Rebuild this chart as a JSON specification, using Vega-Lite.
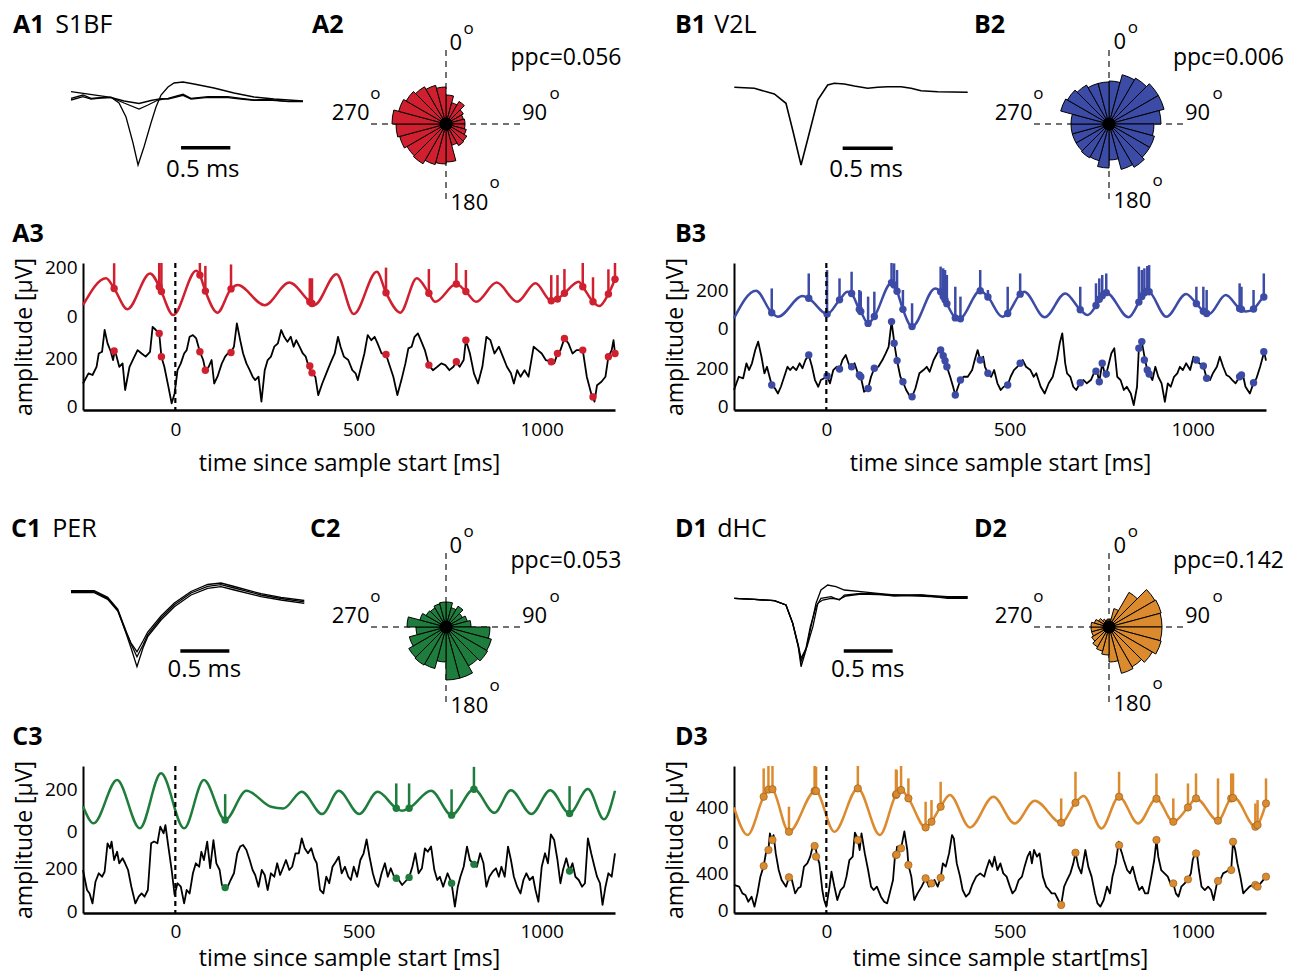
{
"$schema": "https://vega.github.io/schema/vega-lite/v6.json",
"background": "white",
"padding": {"left": 10, "top": 0, "right": 0, "bottom": 2},
"config": {
  "font": "Open Sans",
  "view": {"stroke": null},
  "axis": {"domainColor": "black", "labelColor": "black", "titleColor": "black", "ticks": false, "tickSize": 0, "grid": false, "labelFontSize": 19, "titleFontSize": 23, "titleFontWeight": "normal", "labelFont": "Open Sans", "titleFont": "Open Sans", "labelFlush": false},
  "axisX": {"domainWidth": 2.5, "labelPadding": 10, "titlePadding": 13, "format": "d"},
  "axisY": {"domainWidth": 2, "labelPadding": 6, "titlePadding": 8},
  "text": {"color": "black", "font": "Open Sans"}
},
"datasets": {
"aw": [{"k":1,"t":0,"v":8.3},{"k":1,"t":0.406,"v":2.7},{"k":1,"t":0.487,"v":-3},{"k":1,"t":0.558,"v":-17},{"k":1,"t":0.629,"v":-43},{"k":1,"t":0.68,"v":-65},{"k":1,"t":0.74,"v":-47},{"k":1,"t":0.811,"v":-23},{"k":1,"t":0.862,"v":-7},{"k":1,"t":0.913,"v":5},{"k":1,"t":0.984,"v":13},{"k":1,"t":1.045,"v":17},{"k":1,"t":1.136,"v":18},{"k":1,"t":1.247,"v":16},{"k":1,"t":1.45,"v":12},{"k":1,"t":1.653,"v":7},{"k":1,"t":1.856,"v":3},{"k":1,"t":2.059,"v":1},{"k":1,"t":2.353,"v":-1},
{"k":2,"t":0,"v":1.7},{"k":2,"t":0.122,"v":5},{"k":2,"t":0.203,"v":1.7},{"k":2,"t":0.304,"v":2.3},{"k":2,"t":0.406,"v":2.7},{"k":2,"t":0.538,"v":-3},{"k":2,"t":0.69,"v":-9},{"k":2,"t":0.781,"v":-5},{"k":2,"t":0.882,"v":0},{"k":2,"t":0.984,"v":1.7},{"k":2,"t":1.136,"v":5.7},{"k":2,"t":1.217,"v":1.7},{"k":2,"t":1.389,"v":3.3},{"k":2,"t":1.592,"v":3.3},{"k":2,"t":1.724,"v":1.7},{"k":2,"t":1.856,"v":0},{"k":2,"t":1.998,"v":0.7},{"k":2,"t":2.201,"v":-1.7},{"k":2,"t":2.353,"v":-1.7},
{"k":3,"t":0,"v":0},{"k":3,"t":0.122,"v":3.3},{"k":3,"t":0.203,"v":1},{"k":3,"t":0.304,"v":2},{"k":3,"t":0.406,"v":2.7},{"k":3,"t":0.538,"v":-1},{"k":3,"t":0.69,"v":-3.5},{"k":3,"t":0.811,"v":-0.5},{"k":3,"t":0.913,"v":1.3},{"k":3,"t":0.984,"v":1},{"k":3,"t":1.136,"v":4.7},{"k":3,"t":1.217,"v":1},{"k":3,"t":1.389,"v":2.7},{"k":3,"t":1.592,"v":2.3},{"k":3,"t":1.724,"v":1},{"k":3,"t":1.856,"v":-0.3},{"k":3,"t":1.998,"v":0},{"k":3,"t":2.201,"v":-1.3},{"k":3,"t":2.353,"v":-1.3}],
"bw": [{"k":1,"t":0.003,"v":12.7},{"k":1,"t":0.206,"v":11.7},{"k":1,"t":0.409,"v":6},{"k":1,"t":0.527,"v":-3.3},{"k":1,"t":0.595,"v":-30},{"k":1,"t":0.68,"v":-65},{"k":1,"t":0.754,"v":-36.7},{"k":1,"t":0.849,"v":0},{"k":1,"t":0.95,"v":15},{"k":1,"t":1.017,"v":16.7},{"k":1,"t":1.119,"v":16},{"k":1,"t":1.22,"v":14},{"k":1,"t":1.356,"v":11.7},{"k":1,"t":1.457,"v":12.7},{"k":1,"t":1.559,"v":13.3},{"k":1,"t":1.694,"v":13.3},{"k":1,"t":1.795,"v":11.7},{"k":1,"t":1.897,"v":9.3},{"k":1,"t":2.066,"v":8.3},{"k":1,"t":2.37,"v":7.7}],
"cw": [{"k":1,"t":0,"v":11.3},{"k":1,"t":0.236,"v":11.3},{"k":1,"t":0.372,"v":4.7},{"k":1,"t":0.474,"v":-7},{"k":1,"t":0.558,"v":-30.3},{"k":1,"t":0.609,"v":-45},{"k":1,"t":0.669,"v":-63.7},{"k":1,"t":0.73,"v":-45},{"k":1,"t":0.778,"v":-33.7},{"k":1,"t":0.913,"v":-17},{"k":1,"t":1.048,"v":-3.7},{"k":1,"t":1.217,"v":8},{"k":1,"t":1.386,"v":14.7},{"k":1,"t":1.521,"v":16.3},{"k":1,"t":1.656,"v":13},{"k":1,"t":1.927,"v":6.3},{"k":1,"t":2.13,"v":3},{"k":1,"t":2.366,"v":-0.3},
{"k":2,"t":0,"v":12.3},{"k":2,"t":0.236,"v":12.3},{"k":2,"t":0.372,"v":5.7},{"k":2,"t":0.474,"v":-6},{"k":2,"t":0.558,"v":-28},{"k":2,"t":0.609,"v":-41},{"k":2,"t":0.669,"v":-53.7},{"k":2,"t":0.73,"v":-42},{"k":2,"t":0.778,"v":-31.7},{"k":2,"t":0.913,"v":-15},{"k":2,"t":1.048,"v":-1.7},{"k":2,"t":1.217,"v":10},{"k":2,"t":1.386,"v":16.7},{"k":2,"t":1.521,"v":18.3},{"k":2,"t":1.656,"v":15},{"k":2,"t":1.927,"v":8},{"k":2,"t":2.13,"v":4.5},{"k":2,"t":2.366,"v":1.2},
{"k":3,"t":0,"v":10.3},{"k":3,"t":0.236,"v":10.3},{"k":3,"t":0.372,"v":3.7},{"k":3,"t":0.474,"v":-8},{"k":3,"t":0.558,"v":-29},{"k":3,"t":0.609,"v":-40},{"k":3,"t":0.669,"v":-48.7},{"k":3,"t":0.73,"v":-38},{"k":3,"t":0.778,"v":-29},{"k":3,"t":0.913,"v":-13},{"k":3,"t":1.048,"v":0},{"k":3,"t":1.217,"v":11.5},{"k":3,"t":1.386,"v":18.5},{"k":3,"t":1.521,"v":20},{"k":3,"t":1.656,"v":16.5},{"k":3,"t":1.927,"v":9.3},{"k":3,"t":2.13,"v":5.7},{"k":3,"t":2.366,"v":2.5}],
"dw": [{"k":1,"t":0.003,"v":4.7},{"k":1,"t":0.206,"v":3.7},{"k":1,"t":0.409,"v":2.3},{"k":1,"t":0.527,"v":-2},{"k":1,"t":0.595,"v":-20.3},{"k":1,"t":0.652,"v":-43.7},{"k":1,"t":0.68,"v":-63.7},{"k":1,"t":0.73,"v":-47},{"k":1,"t":0.781,"v":-23.7},{"k":1,"t":0.832,"v":-0.3},{"k":1,"t":0.882,"v":13},{"k":1,"t":0.95,"v":18},{"k":1,"t":1.034,"v":16.3},{"k":1,"t":1.119,"v":13},{"k":1,"t":1.288,"v":11.3},{"k":1,"t":1.457,"v":9.7},{"k":1,"t":1.626,"v":8},{"k":1,"t":1.897,"v":8},{"k":1,"t":2.167,"v":6.3},{"k":1,"t":2.37,"v":6.3},
{"k":2,"t":0.003,"v":4.7},{"k":2,"t":0.206,"v":3.7},{"k":2,"t":0.409,"v":2.3},{"k":2,"t":0.527,"v":-2},{"k":2,"t":0.595,"v":-20.3},{"k":2,"t":0.652,"v":-43.7},{"k":2,"t":0.68,"v":-58.7},{"k":2,"t":0.73,"v":-45.3},{"k":2,"t":0.774,"v":-23.7},{"k":2,"t":0.832,"v":-3.7},{"k":2,"t":0.882,"v":4.7},{"k":2,"t":0.984,"v":6.3},{"k":2,"t":1.068,"v":3},{"k":2,"t":1.119,"v":8},{"k":2,"t":1.288,"v":9.7},{"k":2,"t":1.457,"v":9},{"k":2,"t":1.626,"v":7},{"k":2,"t":1.897,"v":8},{"k":2,"t":2.167,"v":4.7},{"k":2,"t":2.37,"v":4.7},
{"k":3,"t":0.003,"v":4.7},{"k":3,"t":0.206,"v":3.7},{"k":3,"t":0.409,"v":2.3},{"k":3,"t":0.527,"v":-2},{"k":3,"t":0.595,"v":-20},{"k":3,"t":0.652,"v":-42},{"k":3,"t":0.68,"v":-55.3},{"k":3,"t":0.74,"v":-43.7},{"k":3,"t":0.8,"v":-23.7},{"k":3,"t":0.85,"v":-0.3},{"k":3,"t":0.9,"v":3},{"k":3,"t":0.984,"v":4.7},{"k":3,"t":1.068,"v":3.7},{"k":3,"t":1.136,"v":7},{"k":3,"t":1.288,"v":9},{"k":3,"t":1.626,"v":8},{"k":3,"t":2.167,"v":5.7},{"k":3,"t":2.37,"v":5.7}],
"ar": [{"a0":0,"a1":15,"n":29},{"a0":15,"a1":30,"n":22},{"a0":30,"a1":45,"n":26},{"a0":45,"a1":60,"n":20},{"a0":60,"a1":75,"n":18},{"a0":75,"a1":90,"n":19},{"a0":90,"a1":105,"n":19},{"a0":105,"a1":120,"n":21},{"a0":120,"a1":135,"n":24},{"a0":135,"a1":150,"n":25},{"a0":150,"a1":165,"n":22},{"a0":165,"a1":180,"n":38},{"a0":180,"a1":195,"n":40},{"a0":195,"a1":210,"n":42},{"a0":210,"a1":225,"n":46},{"a0":225,"a1":240,"n":45},{"a0":240,"a1":255,"n":48},{"a0":255,"a1":270,"n":50},{"a0":270,"a1":285,"n":54},{"a0":285,"a1":300,"n":49},{"a0":300,"a1":315,"n":46},{"a0":315,"a1":330,"n":43},{"a0":330,"a1":345,"n":40},{"a0":345,"a1":360,"n":37}],
"br": [{"a0":0,"a1":15,"n":43},{"a0":15,"a1":30,"n":51},{"a0":30,"a1":45,"n":53},{"a0":45,"a1":60,"n":57},{"a0":60,"a1":75,"n":57},{"a0":75,"a1":90,"n":52},{"a0":90,"a1":105,"n":45},{"a0":105,"a1":120,"n":47},{"a0":120,"a1":135,"n":47},{"a0":135,"a1":150,"n":50},{"a0":150,"a1":165,"n":47},{"a0":165,"a1":180,"n":36},{"a0":180,"a1":195,"n":44},{"a0":195,"a1":210,"n":38},{"a0":210,"a1":225,"n":39},{"a0":225,"a1":240,"n":38},{"a0":240,"a1":255,"n":38},{"a0":255,"a1":270,"n":38},{"a0":270,"a1":285,"n":38},{"a0":285,"a1":300,"n":50},{"a0":300,"a1":315,"n":48},{"a0":315,"a1":330,"n":45},{"a0":330,"a1":345,"n":42},{"a0":345,"a1":360,"n":42}],
"cr": [{"a0":0,"a1":15,"n":25},{"a0":15,"a1":30,"n":20},{"a0":30,"a1":45,"n":24},{"a0":45,"a1":60,"n":19},{"a0":60,"a1":75,"n":22},{"a0":75,"a1":90,"n":25},{"a0":90,"a1":105,"n":44},{"a0":105,"a1":120,"n":47},{"a0":120,"a1":135,"n":48},{"a0":135,"a1":150,"n":45},{"a0":150,"a1":165,"n":53},{"a0":165,"a1":180,"n":53},{"a0":180,"a1":195,"n":35},{"a0":195,"a1":210,"n":43},{"a0":210,"a1":225,"n":44},{"a0":225,"a1":240,"n":43},{"a0":240,"a1":255,"n":38},{"a0":255,"a1":270,"n":30},{"a0":270,"a1":285,"n":39},{"a0":285,"a1":300,"n":27},{"a0":300,"a1":315,"n":23},{"a0":315,"a1":330,"n":22},{"a0":330,"a1":345,"n":24},{"a0":345,"a1":360,"n":25}],
"dr": [{"a0":0,"a1":15,"n":8},{"a0":15,"a1":30,"n":19},{"a0":30,"a1":45,"n":40},{"a0":45,"a1":60,"n":53},{"a0":60,"a1":75,"n":54},{"a0":75,"a1":90,"n":53},{"a0":90,"a1":105,"n":53},{"a0":105,"a1":120,"n":54},{"a0":120,"a1":135,"n":50},{"a0":135,"a1":150,"n":46},{"a0":150,"a1":165,"n":48},{"a0":165,"a1":180,"n":35},{"a0":180,"a1":195,"n":28},{"a0":195,"a1":210,"n":25},{"a0":210,"a1":225,"n":23},{"a0":225,"a1":240,"n":20},{"a0":240,"a1":255,"n":18},{"a0":255,"a1":270,"n":18},{"a0":270,"a1":285,"n":18},{"a0":285,"a1":300,"n":15},{"a0":300,"a1":315,"n":12},{"a0":315,"a1":330,"n":9},{"a0":330,"a1":345,"n":7},{"a0":345,"a1":360,"n":8}],
"al": [{"t":-252,"v":96},{"t":-237,"v":138},{"t":-226,"v":131},{"t":-215,"v":165},{"t":-209,"v":220},{"t":-200,"v":227},{"t":-193,"v":317},{"t":-185,"v":262},{"t":-176,"v":227},{"t":-170,"v":193},{"t":-165,"v":234},{"t":-153,"v":165},{"t":-144,"v":179},{"t":-137,"v":69},{"t":-125,"v":165},{"t":-114,"v":200},{"t":-103,"v":234},{"t":-92,"v":220},{"t":-81,"v":207},{"t":-69,"v":227},{"t":-62,"v":330},{"t":-53,"v":317},{"t":-44,"v":303},{"t":-38,"v":207},{"t":-30,"v":165},{"t":-19,"v":83},{"t":-10,"v":14},{"t":-2,"v":55},{"t":6,"v":151},{"t":15,"v":179},{"t":24,"v":220},{"t":31,"v":234},{"t":39,"v":289},{"t":48,"v":296},{"t":57,"v":282},{"t":67,"v":227},{"t":76,"v":193},{"t":82,"v":151},{"t":91,"v":165},{"t":99,"v":193},{"t":106,"v":96},{"t":115,"v":124},{"t":127,"v":179},{"t":136,"v":207},{"t":143,"v":220},{"t":152,"v":224},{"t":160,"v":248},{"t":168,"v":344},{"t":177,"v":275},{"t":185,"v":220},{"t":194,"v":179},{"t":203,"v":151},{"t":211,"v":124},{"t":218,"v":110},{"t":227,"v":124},{"t":235,"v":21},{"t":244,"v":151},{"t":252,"v":193},{"t":261,"v":207},{"t":270,"v":248},{"t":280,"v":262},{"t":289,"v":317},{"t":297,"v":289},{"t":306,"v":268},{"t":315,"v":289},{"t":323,"v":248},{"t":330,"v":275},{"t":339,"v":248},{"t":348,"v":220},{"t":356,"v":207},{"t":364,"v":165},{"t":373,"v":140},{"t":382,"v":124},{"t":390,"v":48},{"t":401,"v":96},{"t":412,"v":138},{"t":423,"v":179},{"t":435,"v":220},{"t":444,"v":289},{"t":451,"v":248},{"t":460,"v":207},{"t":472,"v":193},{"t":483,"v":151},{"t":492,"v":138},{"t":498,"v":110},{"t":507,"v":165},{"t":516,"v":220},{"t":525,"v":296},{"t":535,"v":275},{"t":544,"v":289},{"t":552,"v":262},{"t":563,"v":220},{"t":575,"v":216},{"t":586,"v":165},{"t":595,"v":124},{"t":606,"v":48},{"t":617,"v":110},{"t":628,"v":179},{"t":636,"v":241},{"t":645,"v":248},{"t":653,"v":289},{"t":662,"v":303},{"t":670,"v":275},{"t":681,"v":234},{"t":692,"v":172},{"t":703,"v":151},{"t":715,"v":165},{"t":726,"v":179},{"t":737,"v":172},{"t":748,"v":151},{"t":759,"v":165},{"t":767,"v":186},{"t":776,"v":165},{"t":787,"v":193},{"t":793,"v":275},{"t":804,"v":220},{"t":815,"v":138},{"t":826,"v":96},{"t":838,"v":165},{"t":849,"v":289},{"t":860,"v":275},{"t":871,"v":220},{"t":883,"v":248},{"t":894,"v":207},{"t":905,"v":165},{"t":916,"v":138},{"t":924,"v":96},{"t":933,"v":151},{"t":942,"v":124},{"t":953,"v":151},{"t":964,"v":124},{"t":978,"v":248},{"t":989,"v":234},{"t":1000,"v":220},{"t":1011,"v":193},{"t":1026,"v":186},{"t":1034,"v":179},{"t":1043,"v":220},{"t":1051,"v":234},{"t":1062,"v":282},{"t":1073,"v":262},{"t":1084,"v":220},{"t":1095,"v":234},{"t":1112,"v":234},{"t":1123,"v":124},{"t":1135,"v":55},{"t":1144,"v":21},{"t":1151,"v":89},{"t":1163,"v":103},{"t":1174,"v":124},{"t":1182,"v":207},{"t":1191,"v":234},{"t":1196,"v":275},{"t":1200,"v":220}],
"af": [{"t":-252,"v":45},{"t":-189,"v":156},{"t":-167,"v":114},{"t":-131,"v":28},{"t":-69,"v":176},{"t":-44,"v":121},{"t":-38,"v":101},{"t":-6,"v":4},{"t":57,"v":187},{"t":67,"v":169},{"t":82,"v":103},{"t":115,"v":14},{"t":152,"v":112},{"t":170,"v":128},{"t":244,"v":45},{"t":311,"v":138},{"t":367,"v":59},{"t":373,"v":52},{"t":379,"v":45},{"t":440,"v":173},{"t":487,"v":8},{"t":550,"v":183},{"t":575,"v":96},{"t":614,"v":14},{"t":659,"v":156},{"t":692,"v":94},{"t":709,"v":59},{"t":767,"v":132},{"t":793,"v":101},{"t":821,"v":59},{"t":877,"v":138},{"t":933,"v":59},{"t":983,"v":135},{"t":1026,"v":63},{"t":1043,"v":70},{"t":1062,"v":94},{"t":1101,"v":142},{"t":1112,"v":121},{"t":1140,"v":59},{"t":1157,"v":41},{"t":1182,"v":91},{"t":1200,"v":152}],
"as": [{"t":-167,"f":114,"top":218,"raw":230},{"t":-44,"f":121,"top":219,"raw":303},{"t":-38,"f":101,"top":219,"raw":207},{"t":67,"f":169,"top":219,"raw":227},{"t":82,"f":103,"top":207,"raw":151},{"t":152,"f":112,"top":213,"raw":224},{"t":367,"f":59,"top":156,"raw":168},{"t":373,"f":52,"top":156,"raw":140},{"t":575,"f":96,"top":200,"raw":216},{"t":692,"f":94,"top":194,"raw":172},{"t":767,"f":132,"top":219,"raw":186},{"t":793,"f":101,"top":190,"raw":275},{"t":1026,"f":63,"top":169,"raw":186},{"t":1043,"f":70,"top":169,"raw":220},{"t":1062,"f":94,"top":194,"raw":282},{"t":1112,"f":121,"top":219,"raw":234},{"t":1140,"f":59,"top":160,"raw":40},{"t":1182,"f":91,"top":193,"raw":207},{"t":1200,"f":152,"top":219,"raw":220}],
"bl": [{"t":-252,"v":87},{"t":-239,"v":156},{"t":-227,"v":148},{"t":-218,"v":226},{"t":-211,"v":191},{"t":-203,"v":226},{"t":-194,"v":295},{"t":-186,"v":339},{"t":-177,"v":260},{"t":-169,"v":174},{"t":-162,"v":208},{"t":-155,"v":156},{"t":-149,"v":113},{"t":-140,"v":95},{"t":-132,"v":69},{"t":-124,"v":104},{"t":-115,"v":156},{"t":-106,"v":208},{"t":-99,"v":191},{"t":-91,"v":208},{"t":-82,"v":191},{"t":-73,"v":226},{"t":-65,"v":200},{"t":-57,"v":243},{"t":-48,"v":269},{"t":-39,"v":208},{"t":-31,"v":139},{"t":-22,"v":104},{"t":-15,"v":139},{"t":-6,"v":148},{"t":2,"v":160},{"t":10,"v":122},{"t":19,"v":191},{"t":28,"v":208},{"t":36,"v":196},{"t":44,"v":243},{"t":53,"v":269},{"t":62,"v":217},{"t":69,"v":208},{"t":77,"v":226},{"t":86,"v":174},{"t":94,"v":156},{"t":103,"v":78},{"t":114,"v":95},{"t":122,"v":156},{"t":131,"v":200},{"t":142,"v":208},{"t":153,"v":243},{"t":162,"v":278},{"t":170,"v":312},{"t":178,"v":443},{"t":187,"v":312},{"t":193,"v":240},{"t":202,"v":156},{"t":209,"v":130},{"t":218,"v":87},{"t":226,"v":61},{"t":234,"v":52},{"t":243,"v":95},{"t":254,"v":174},{"t":265,"v":191},{"t":274,"v":208},{"t":282,"v":182},{"t":293,"v":243},{"t":305,"v":286},{"t":312,"v":295},{"t":321,"v":257},{"t":329,"v":208},{"t":338,"v":156},{"t":346,"v":104},{"t":352,"v":61},{"t":358,"v":95},{"t":366,"v":139},{"t":375,"v":156},{"t":386,"v":156},{"t":398,"v":191},{"t":405,"v":243},{"t":413,"v":295},{"t":420,"v":243},{"t":428,"v":260},{"t":433,"v":208},{"t":441,"v":174},{"t":450,"v":156},{"t":458,"v":191},{"t":467,"v":122},{"t":476,"v":87},{"t":484,"v":104},{"t":495,"v":113},{"t":503,"v":156},{"t":512,"v":191},{"t":521,"v":208},{"t":529,"v":226},{"t":536,"v":243},{"t":545,"v":208},{"t":557,"v":191},{"t":566,"v":156},{"t":573,"v":174},{"t":585,"v":104},{"t":596,"v":69},{"t":607,"v":122},{"t":618,"v":156},{"t":629,"v":243},{"t":637,"v":330},{"t":644,"v":382},{"t":652,"v":226},{"t":657,"v":174},{"t":666,"v":156},{"t":674,"v":104},{"t":682,"v":87},{"t":693,"v":125},{"t":702,"v":139},{"t":711,"v":122},{"t":722,"v":139},{"t":730,"v":174},{"t":738,"v":191},{"t":745,"v":130},{"t":753,"v":226},{"t":762,"v":156},{"t":769,"v":208},{"t":778,"v":278},{"t":786,"v":304},{"t":794,"v":156},{"t":803,"v":139},{"t":812,"v":87},{"t":820,"v":104},{"t":831,"v":69},{"t":839,"v":9},{"t":848,"v":104},{"t":853,"v":304},{"t":861,"v":339},{"t":870,"v":243},{"t":876,"v":191},{"t":881,"v":170},{"t":890,"v":139},{"t":898,"v":208},{"t":906,"v":156},{"t":915,"v":122},{"t":924,"v":26},{"t":932,"v":122},{"t":940,"v":104},{"t":949,"v":156},{"t":958,"v":174},{"t":965,"v":208},{"t":973,"v":191},{"t":982,"v":226},{"t":993,"v":191},{"t":1002,"v":260},{"t":1010,"v":243},{"t":1018,"v":226},{"t":1029,"v":212},{"t":1038,"v":148},{"t":1047,"v":139},{"t":1055,"v":174},{"t":1066,"v":208},{"t":1074,"v":260},{"t":1083,"v":208},{"t":1092,"v":165},{"t":1100,"v":156},{"t":1108,"v":139},{"t":1117,"v":122},{"t":1128,"v":156},{"t":1137,"v":165},{"t":1144,"v":104},{"t":1156,"v":69},{"t":1166,"v":125},{"t":1174,"v":148},{"t":1184,"v":208},{"t":1195,"v":286},{"t":1200,"v":240}],
"bf": [{"t":-252,"v":53},{"t":-192,"v":198},{"t":-149,"v":82},{"t":-132,"v":61},{"t":-65,"v":170},{"t":-48,"v":158},{"t":2,"v":75},{"t":36,"v":150},{"t":58,"v":193},{"t":69,"v":183},{"t":90,"v":100},{"t":94,"v":88},{"t":114,"v":26},{"t":131,"v":62},{"t":178,"v":240},{"t":185,"v":228},{"t":193,"v":195},{"t":209,"v":100},{"t":234,"v":9},{"t":297,"v":210},{"t":312,"v":192},{"t":319,"v":168},{"t":324,"v":150},{"t":329,"v":130},{"t":352,"v":55},{"t":361,"v":47},{"t":366,"v":50},{"t":420,"v":198},{"t":441,"v":165},{"t":480,"v":61},{"t":495,"v":78},{"t":529,"v":180},{"t":540,"v":193},{"t":596,"v":58},{"t":652,"v":184},{"t":693,"v":98},{"t":713,"v":70},{"t":736,"v":120},{"t":745,"v":153},{"t":753,"v":172},{"t":764,"v":188},{"t":825,"v":58},{"t":853,"v":138},{"t":861,"v":168},{"t":868,"v":188},{"t":876,"v":196},{"t":881,"v":193},{"t":928,"v":61},{"t":982,"v":181},{"t":1010,"v":130},{"t":1029,"v":90},{"t":1038,"v":78},{"t":1044,"v":75},{"t":1090,"v":175},{"t":1128,"v":105},{"t":1133,"v":100},{"t":1145,"v":88},{"t":1166,"v":102},{"t":1194,"v":165},{"t":1200,"v":172}],
"bs": [{"t":-149,"f":82,"top":210,"raw":113},{"t":-48,"f":158,"top":289,"raw":269},{"t":2,"f":75,"top":307,"raw":160},{"t":36,"f":150,"top":263,"raw":196},{"t":69,"f":183,"top":298,"raw":208},{"t":90,"f":100,"top":202,"raw":165},{"t":94,"f":88,"top":195,"raw":156},{"t":114,"f":26,"top":167,"raw":95},{"t":131,"f":62,"top":193,"raw":200},{"t":178,"f":240,"top":344,"raw":443},{"t":185,"f":228,"top":342,"raw":330},{"t":193,"f":195,"top":307,"raw":240},{"t":209,"f":100,"top":202,"raw":130},{"t":234,"f":9,"top":132,"raw":52},{"t":312,"f":192,"top":325,"raw":295},{"t":319,"f":168,"top":316,"raw":265},{"t":324,"f":150,"top":307,"raw":239},{"t":329,"f":130,"top":281,"raw":208},{"t":352,"f":55,"top":219,"raw":61},{"t":366,"f":50,"top":167,"raw":139},{"t":420,"f":198,"top":307,"raw":243},{"t":441,"f":165,"top":202,"raw":174},{"t":495,"f":78,"top":219,"raw":113},{"t":529,"f":180,"top":289,"raw":226},{"t":693,"f":98,"top":219,"raw":125},{"t":736,"f":120,"top":237,"raw":185},{"t":745,"f":153,"top":263,"raw":130},{"t":753,"f":172,"top":281,"raw":226},{"t":764,"f":188,"top":289,"raw":170},{"t":853,"f":138,"top":325,"raw":304},{"t":861,"f":168,"top":307,"raw":339},{"t":868,"f":188,"top":316,"raw":243},{"t":876,"f":196,"top":328,"raw":191},{"t":881,"f":193,"top":333,"raw":170},{"t":1010,"f":130,"top":219,"raw":243},{"t":1029,"f":90,"top":219,"raw":212},{"t":1038,"f":78,"top":202,"raw":148},{"t":1128,"f":105,"top":237,"raw":156},{"t":1133,"f":100,"top":219,"raw":165},{"t":1166,"f":102,"top":202,"raw":125},{"t":1194,"f":165,"top":289,"raw":286}],
"cl": [{"t":-252,"v":192},{"t":-241,"v":100},{"t":-234,"v":84},{"t":-226,"v":38},{"t":-218,"v":138},{"t":-209,"v":177},{"t":-200,"v":161},{"t":-193,"v":184},{"t":-185,"v":315},{"t":-178,"v":292},{"t":-174,"v":323},{"t":-167,"v":238},{"t":-159,"v":276},{"t":-153,"v":223},{"t":-144,"v":246},{"t":-137,"v":223},{"t":-129,"v":192},{"t":-120,"v":115},{"t":-109,"v":38},{"t":-100,"v":69},{"t":-92,"v":84},{"t":-84,"v":69},{"t":-75,"v":100},{"t":-66,"v":315},{"t":-58,"v":323},{"t":-49,"v":315},{"t":-41,"v":392},{"t":-32,"v":361},{"t":-27,"v":399},{"t":-19,"v":300},{"t":-10,"v":192},{"t":-2,"v":77},{"t":6,"v":131},{"t":15,"v":115},{"t":24,"v":38},{"t":31,"v":100},{"t":39,"v":84},{"t":48,"v":177},{"t":56,"v":223},{"t":65,"v":207},{"t":71,"v":276},{"t":78,"v":238},{"t":87,"v":323},{"t":95,"v":200},{"t":104,"v":330},{"t":112,"v":223},{"t":121,"v":192},{"t":127,"v":123},{"t":136,"v":111},{"t":143,"v":115},{"t":151,"v":146},{"t":160,"v":177},{"t":169,"v":269},{"t":177,"v":300},{"t":185,"v":307},{"t":194,"v":284},{"t":203,"v":238},{"t":211,"v":192},{"t":218,"v":169},{"t":227,"v":115},{"t":236,"v":192},{"t":244,"v":169},{"t":252,"v":100},{"t":261,"v":177},{"t":270,"v":161},{"t":278,"v":223},{"t":286,"v":169},{"t":295,"v":207},{"t":302,"v":238},{"t":311,"v":192},{"t":319,"v":207},{"t":328,"v":269},{"t":337,"v":269},{"t":345,"v":338},{"t":353,"v":292},{"t":362,"v":269},{"t":371,"v":292},{"t":379,"v":246},{"t":386,"v":223},{"t":395,"v":100},{"t":404,"v":84},{"t":412,"v":161},{"t":420,"v":131},{"t":429,"v":207},{"t":438,"v":230},{"t":446,"v":253},{"t":454,"v":177},{"t":463,"v":207},{"t":472,"v":161},{"t":479,"v":146},{"t":487,"v":207},{"t":496,"v":161},{"t":505,"v":238},{"t":514,"v":269},{"t":522,"v":333},{"t":530,"v":253},{"t":539,"v":177},{"t":547,"v":131},{"t":554,"v":115},{"t":563,"v":177},{"t":572,"v":223},{"t":580,"v":161},{"t":588,"v":200},{"t":597,"v":161},{"t":603,"v":154},{"t":610,"v":146},{"t":619,"v":123},{"t":627,"v":138},{"t":638,"v":158},{"t":647,"v":207},{"t":655,"v":269},{"t":664,"v":177},{"t":673,"v":200},{"t":681,"v":292},{"t":689,"v":276},{"t":698,"v":300},{"t":707,"v":192},{"t":715,"v":146},{"t":722,"v":161},{"t":731,"v":115},{"t":743,"v":177},{"t":754,"v":131},{"t":763,"v":23},{"t":771,"v":115},{"t":778,"v":161},{"t":787,"v":207},{"t":796,"v":300},{"t":804,"v":238},{"t":815,"v":218},{"t":823,"v":207},{"t":832,"v":269},{"t":841,"v":223},{"t":849,"v":115},{"t":857,"v":161},{"t":866,"v":184},{"t":875,"v":200},{"t":883,"v":161},{"t":890,"v":207},{"t":899,"v":161},{"t":908,"v":300},{"t":916,"v":238},{"t":924,"v":161},{"t":933,"v":115},{"t":942,"v":84},{"t":950,"v":146},{"t":958,"v":177},{"t":967,"v":146},{"t":976,"v":161},{"t":983,"v":100},{"t":991,"v":46},{"t":1000,"v":207},{"t":1009,"v":269},{"t":1017,"v":223},{"t":1025,"v":356},{"t":1034,"v":330},{"t":1043,"v":238},{"t":1051,"v":131},{"t":1058,"v":192},{"t":1067,"v":246},{"t":1076,"v":187},{"t":1084,"v":223},{"t":1092,"v":161},{"t":1101,"v":146},{"t":1110,"v":115},{"t":1118,"v":131},{"t":1126,"v":338},{"t":1135,"v":269},{"t":1144,"v":207},{"t":1151,"v":161},{"t":1159,"v":131},{"t":1166,"v":31},{"t":1174,"v":115},{"t":1182,"v":177},{"t":1191,"v":161},{"t":1200,"v":269}],
"cf": [{"t":-252,"v":122},{"t":-223,"v":40},{"t":-159,"v":246},{"t":-97,"v":16},{"t":-39,"v":278},{"t":24,"v":16},{"t":78,"v":246},{"t":136,"v":56},{"t":194,"v":195},{"t":261,"v":119},{"t":295,"v":111},{"t":345,"v":190},{"t":401,"v":84},{"t":446,"v":195},{"t":502,"v":84},{"t":552,"v":190},{"t":603,"v":112},{"t":619,"v":100},{"t":638,"v":112},{"t":698,"v":195},{"t":754,"v":79},{"t":815,"v":202},{"t":871,"v":90},{"t":916,"v":198},{"t":972,"v":84},{"t":1023,"v":198},{"t":1076,"v":87},{"t":1126,"v":203},{"t":1170,"v":59},{"t":1200,"v":195}],
"cs": [{"t":136,"f":56,"top":179,"raw":111},{"t":603,"f":112,"top":230,"raw":154},{"t":638,"f":112,"top":230,"raw":158},{"t":754,"f":79,"top":202,"raw":131},{"t":815,"f":202,"top":309,"raw":218},{"t":1076,"f":87,"top":217,"raw":187}],
"dl": [{"t":-252,"v":275},{"t":-238,"v":257},{"t":-229,"v":185},{"t":-221,"v":168},{"t":-213,"v":96},{"t":-204,"v":150},{"t":-196,"v":43},{"t":-188,"v":185},{"t":-180,"v":364},{"t":-171,"v":478},{"t":-165,"v":613},{"t":-158,"v":649},{"t":-154,"v":827},{"t":-149,"v":756},{"t":-144,"v":809},{"t":-138,"v":613},{"t":-130,"v":435},{"t":-122,"v":328},{"t":-110,"v":257},{"t":-102,"v":357},{"t":-94,"v":328},{"t":-85,"v":185},{"t":-77,"v":239},{"t":-70,"v":257},{"t":-61,"v":471},{"t":-52,"v":506},{"t":-44,"v":578},{"t":-36,"v":702},{"t":-30,"v":692},{"t":-25,"v":578},{"t":-19,"v":506},{"t":-11,"v":221},{"t":-6,"v":114},{"t":0,"v":43},{"t":8,"v":239},{"t":14,"v":417},{"t":22,"v":257},{"t":30,"v":114},{"t":39,"v":221},{"t":48,"v":257},{"t":55,"v":364},{"t":63,"v":542},{"t":72,"v":578},{"t":78,"v":834},{"t":83,"v":791},{"t":86,"v":756},{"t":91,"v":649},{"t":96,"v":827},{"t":105,"v":613},{"t":114,"v":435},{"t":122,"v":257},{"t":129,"v":221},{"t":138,"v":257},{"t":149,"v":150},{"t":158,"v":96},{"t":166,"v":78},{"t":173,"v":185},{"t":182,"v":328},{"t":188,"v":613},{"t":190,"v":595},{"t":193,"v":684},{"t":199,"v":684},{"t":204,"v":667},{"t":213,"v":848},{"t":221,"v":649},{"t":224,"v":488},{"t":232,"v":364},{"t":240,"v":114},{"t":249,"v":185},{"t":260,"v":257},{"t":271,"v":346},{"t":280,"v":257},{"t":287,"v":292},{"t":295,"v":328},{"t":304,"v":257},{"t":312,"v":353},{"t":318,"v":506},{"t":326,"v":471},{"t":335,"v":613},{"t":343,"v":809},{"t":348,"v":774},{"t":356,"v":506},{"t":365,"v":364},{"t":372,"v":221},{"t":381,"v":150},{"t":390,"v":185},{"t":398,"v":275},{"t":409,"v":364},{"t":420,"v":399},{"t":431,"v":364},{"t":436,"v":435},{"t":445,"v":542},{"t":453,"v":471},{"t":459,"v":578},{"t":467,"v":435},{"t":475,"v":506},{"t":483,"v":399},{"t":492,"v":364},{"t":501,"v":257},{"t":508,"v":185},{"t":516,"v":221},{"t":525,"v":328},{"t":534,"v":364},{"t":541,"v":471},{"t":549,"v":578},{"t":556,"v":631},{"t":561,"v":506},{"t":567,"v":649},{"t":575,"v":578},{"t":582,"v":613},{"t":591,"v":364},{"t":600,"v":257},{"t":608,"v":221},{"t":615,"v":185},{"t":624,"v":185},{"t":633,"v":114},{"t":641,"v":61},{"t":649,"v":257},{"t":657,"v":328},{"t":666,"v":399},{"t":674,"v":506},{"t":680,"v":620},{"t":688,"v":471},{"t":696,"v":399},{"t":707,"v":649},{"t":715,"v":471},{"t":724,"v":364},{"t":733,"v":185},{"t":740,"v":78},{"t":748,"v":43},{"t":757,"v":114},{"t":766,"v":257},{"t":774,"v":185},{"t":781,"v":364},{"t":790,"v":506},{"t":798,"v":738},{"t":801,"v":684},{"t":807,"v":613},{"t":812,"v":542},{"t":821,"v":435},{"t":829,"v":399},{"t":836,"v":471},{"t":845,"v":328},{"t":854,"v":221},{"t":862,"v":257},{"t":870,"v":185},{"t":878,"v":185},{"t":887,"v":364},{"t":895,"v":542},{"t":901,"v":756},{"t":906,"v":578},{"t":914,"v":435},{"t":923,"v":399},{"t":932,"v":364},{"t":939,"v":292},{"t":947,"v":292},{"t":954,"v":185},{"t":961,"v":150},{"t":969,"v":257},{"t":978,"v":292},{"t":987,"v":335},{"t":995,"v":399},{"t":1000,"v":542},{"t":1006,"v":613},{"t":1011,"v":620},{"t":1017,"v":435},{"t":1024,"v":257},{"t":1033,"v":221},{"t":1042,"v":257},{"t":1050,"v":221},{"t":1057,"v":114},{"t":1066,"v":292},{"t":1075,"v":328},{"t":1083,"v":399},{"t":1091,"v":417},{"t":1099,"v":435},{"t":1105,"v":435},{"t":1110,"v":738},{"t":1116,"v":649},{"t":1122,"v":506},{"t":1130,"v":364},{"t":1138,"v":185},{"t":1146,"v":221},{"t":1155,"v":257},{"t":1163,"v":275},{"t":1171,"v":275},{"t":1177,"v":257},{"t":1185,"v":292},{"t":1200,"v":364}],
"df": [{"t":-252,"v":400},{"t":-215,"v":87},{"t":-171,"v":520},{"t":-158,"v":600},{"t":-151,"v":614},{"t":-147,"v":605},{"t":-102,"v":124},{"t":-32,"v":585},{"t":-30,"v":587},{"t":-28,"v":585},{"t":22,"v":124},{"t":86,"v":614},{"t":146,"v":87},{"t":190,"v":539},{"t":192,"v":550},{"t":204,"v":595},{"t":224,"v":501},{"t":271,"v":173},{"t":287,"v":237},{"t":312,"v":407},{"t":337,"v":539},{"t":392,"v":173},{"t":456,"v":520},{"t":514,"v":218},{"t":569,"v":475},{"t":641,"v":226},{"t":680,"v":452},{"t":702,"v":527},{"t":751,"v":162},{"t":799,"v":520},{"t":851,"v":218},{"t":901,"v":497},{"t":947,"v":237},{"t":987,"v":399},{"t":1009,"v":501},{"t":1069,"v":249},{"t":1105,"v":500},{"t":1110,"v":506},{"t":1113,"v":508},{"t":1171,"v":181},{"t":1177,"v":200},{"t":1200,"v":444}],
"ds": [{"t":-171,"f":520,"top":840,"raw":478},{"t":-158,"f":600,"top":867,"raw":649},{"t":-147,"f":605,"top":867,"raw":756},{"t":-102,"f":124,"top":407,"raw":357},{"t":-32,"f":585,"top":867,"raw":692},{"t":-28,"f":585,"top":859,"raw":578},{"t":86,"f":614,"top":867,"raw":756},{"t":190,"f":539,"top":829,"raw":595},{"t":192,"f":550,"top":821,"raw":600},{"t":204,"f":595,"top":867,"raw":667},{"t":224,"f":501,"top":727,"raw":488},{"t":271,"f":173,"top":463,"raw":346},{"t":287,"f":237,"top":482,"raw":292},{"t":312,"f":407,"top":689,"raw":353},{"t":641,"f":226,"top":501,"raw":61},{"t":680,"f":452,"top":802,"raw":620},{"t":799,"f":520,"top":802,"raw":700},{"t":901,"f":497,"top":783,"raw":756},{"t":947,"f":237,"top":501,"raw":292},{"t":987,"f":399,"top":670,"raw":335},{"t":1009,"f":501,"top":783,"raw":613},{"t":1069,"f":249,"top":727,"raw":317},{"t":1105,"f":500,"top":783,"raw":435},{"t":1110,"f":506,"top":783,"raw":738},{"t":1171,"f":181,"top":444,"raw":275},{"t":1177,"f":200,"top":482,"raw":257},{"t":1200,"f":444,"top":727,"raw":364}]
},
"columns": 4,
"align": "none",
"bounds": "flush",
"spacing": 0,
"concat": [
 {"width": 532, "height": 263, "data": {"values": [{}]},
  "resolve": {"scale": {"x": "independent", "y": "independent"}},
  "layer": [
   {"layer": [
    {"data": {"name": "aw"}, "mark": {"type": "line", "color": "black", "strokeWidth": 1.3},
     "encoding": {"x": {"field": "t", "type": "quantitative", "scale": {"domain": [0.1217, 5.5172], "nice": false, "zero": false}, "axis": null},
                  "y": {"field": "v", "type": "quantitative", "scale": {"domain": [-163, 100], "nice": false, "zero": false}, "axis": null},
                  "detail": {"field": "k"}}},
    {"mark": {"type": "rule", "color": "black", "strokeWidth": 3.5}, "encoding": {"x": {"datum": 1.116}, "x2": {"datum": 1.616}, "y": {"datum": -47.7}}},
    {"mark": {"type": "text", "text": "0.5 ms", "fontSize": 24, "align": "center", "baseline": "middle"}, "encoding": {"x": {"datum": 1.336}, "y": {"datum": -70}}},
    {"mark": {"type": "text", "text": "A1", "fontSize": 25, "fontWeight": "bold", "align": "left", "baseline": "alphabetic"}, "encoding": {"x": {"datum": -0.588}, "y": {"datum": 67}}},
    {"mark": {"type": "text", "text": "S1BF", "fontSize": 25, "align": "left", "baseline": "alphabetic"}, "encoding": {"x": {"datum": -0.16}, "y": {"datum": 67}}}
   ]},
   {"layer": [
    {"mark": {"type": "rule", "color": "#444", "strokeDash": [6, 5], "strokeWidth": 1.5},
     "encoding": {"x": {"datum": 0, "scale": {"domain": [-4.84, 2.2533], "nice": false, "zero": false}, "axis": null},
                  "y": {"datum": -1, "scale": {"domain": [-1.8533, 1.6533], "nice": false, "zero": false}, "axis": null},
                  "y2": {"datum": 1}}},
    {"mark": {"type": "rule", "color": "#444", "strokeDash": [6, 5], "strokeWidth": 1.5}, "encoding": {"x": {"datum": -1}, "x2": {"datum": 1}, "y": {"datum": 0}}},
    {"data": {"name": "ar"}, "mark": {"type": "arc", "color": "#d0202f", "stroke": "black", "strokeWidth": 1},
     "encoding": {"x": {"datum": 0}, "y": {"datum": 0},
                  "theta": {"field": "a0", "type": "quantitative", "stack": null, "scale": {"domain": [0, 360], "range": [0, 6.283185]}},
                  "theta2": {"field": "a1"},
                  "radius": {"field": "n", "type": "quantitative", "scale": {"type": "linear", "domain": [0, 75], "range": [0, 75], "zero": true}}}},
    {"mark": {"type": "point", "filled": true, "color": "black", "size": 170, "opacity": 1}, "encoding": {"x": {"datum": 0}, "y": {"datum": 0}}},
    {"mark": {"type": "text", "text": "0", "fontSize": 22, "align": "left", "baseline": "alphabetic"}, "encoding": {"x": {"datum": 0.047}, "y": {"datum": 0.987}}},
    {"mark": {"type": "text", "text": "o", "fontSize": 17, "align": "left", "baseline": "alphabetic"}, "encoding": {"x": {"datum": 0.233}, "y": {"datum": 1.2}}},
    {"mark": {"type": "text", "text": "90", "fontSize": 22, "align": "left", "baseline": "alphabetic"}, "encoding": {"x": {"datum": 1.013}, "y": {"datum": 0.053}}},
    {"mark": {"type": "text", "text": "o", "fontSize": 17, "align": "left", "baseline": "alphabetic"}, "encoding": {"x": {"datum": 1.38}, "y": {"datum": 0.329}}},
    {"mark": {"type": "text", "text": "270", "fontSize": 22, "align": "right", "baseline": "alphabetic"}, "encoding": {"x": {"datum": -1.02}, "y": {"datum": 0.053}}},
    {"mark": {"type": "text", "text": "o", "fontSize": 17, "align": "left", "baseline": "alphabetic"}, "encoding": {"x": {"datum": -1.01}, "y": {"datum": 0.329}}},
    {"mark": {"type": "text", "text": "180", "fontSize": 22, "align": "left", "baseline": "alphabetic"}, "encoding": {"x": {"datum": 0.06}, "y": {"datum": -1.147}}},
    {"mark": {"type": "text", "text": "o", "fontSize": 17, "align": "left", "baseline": "alphabetic"}, "encoding": {"x": {"datum": 0.58}, "y": {"datum": -0.857}}},
    {"mark": {"type": "text", "text": "ppc=0.056", "fontSize": 23, "align": "left", "baseline": "alphabetic"}, "encoding": {"x": {"datum": 0.86}, "y": {"datum": 0.787}}},
    {"mark": {"type": "text", "text": "A2", "fontSize": 25, "fontWeight": "bold", "align": "left", "baseline": "alphabetic"}, "encoding": {"x": {"datum": -1.787}, "y": {"datum": 1.213}}}
   ]}
  ]},
 {"width": 119, "height": 263, "data": {"values": []}, "mark": "point"},
 {"width": 532, "height": 263, "data": {"values": [{}]},
  "resolve": {"scale": {"x": "independent", "y": "independent"}},
  "layer": [
   {"layer": [
    {"data": {"name": "bw"}, "mark": {"type": "line", "color": "black", "strokeWidth": 1.6},
     "encoding": {"x": {"field": "t", "type": "quantitative", "scale": {"domain": [0, 5.3955], "nice": false, "zero": false}, "axis": null},
                  "y": {"field": "v", "type": "quantitative", "scale": {"domain": [-163, 100], "nice": false, "zero": false}, "axis": null},
                  "detail": {"field": "k"}}},
    {"mark": {"type": "rule", "color": "black", "strokeWidth": 3.5}, "encoding": {"x": {"datum": 1.102}, "x2": {"datum": 1.61}, "y": {"datum": -48.3}}},
    {"mark": {"type": "text", "text": "0.5 ms", "fontSize": 24, "align": "center", "baseline": "middle"}, "encoding": {"x": {"datum": 1.339}, "y": {"datum": -70}}},
    {"mark": {"type": "text", "text": "B1", "fontSize": 25, "fontWeight": "bold", "align": "left", "baseline": "alphabetic"}, "encoding": {"x": {"datum": -0.598}, "y": {"datum": 67}}},
    {"mark": {"type": "text", "text": "V2L", "fontSize": 25, "align": "left", "baseline": "alphabetic"}, "encoding": {"x": {"datum": -0.2}, "y": {"datum": 67}}}
   ]},
   {"layer": [
    {"mark": {"type": "rule", "color": "#444", "strokeDash": [6, 5], "strokeWidth": 1.5},
     "encoding": {"x": {"datum": 0, "scale": {"domain": [-5, 2.0933], "nice": false, "zero": false}, "axis": null},
                  "y": {"datum": -1, "scale": {"domain": [-1.8533, 1.6533], "nice": false, "zero": false}, "axis": null},
                  "y2": {"datum": 1}}},
    {"mark": {"type": "rule", "color": "#444", "strokeDash": [6, 5], "strokeWidth": 1.5}, "encoding": {"x": {"datum": -1}, "x2": {"datum": 1}, "y": {"datum": 0}}},
    {"data": {"name": "br"}, "mark": {"type": "arc", "color": "#3c4ba6", "stroke": "black", "strokeWidth": 1},
     "encoding": {"x": {"datum": 0}, "y": {"datum": 0},
                  "theta": {"field": "a0", "type": "quantitative", "stack": null, "scale": {"domain": [0, 360], "range": [0, 6.283185]}},
                  "theta2": {"field": "a1"},
                  "radius": {"field": "n", "type": "quantitative", "scale": {"type": "linear", "domain": [0, 75], "range": [0, 75], "zero": true}}}},
    {"mark": {"type": "point", "filled": true, "color": "black", "size": 170, "opacity": 1}, "encoding": {"x": {"datum": 0}, "y": {"datum": 0}}},
    {"mark": {"type": "text", "text": "0", "fontSize": 22, "align": "left", "baseline": "alphabetic"}, "encoding": {"x": {"datum": 0.06}, "y": {"datum": 1.0}}},
    {"mark": {"type": "text", "text": "o", "fontSize": 17, "align": "left", "baseline": "alphabetic"}, "encoding": {"x": {"datum": 0.25}, "y": {"datum": 1.213}}},
    {"mark": {"type": "text", "text": "90", "fontSize": 22, "align": "left", "baseline": "alphabetic"}, "encoding": {"x": {"datum": 1.013}, "y": {"datum": 0.053}}},
    {"mark": {"type": "text", "text": "o", "fontSize": 17, "align": "left", "baseline": "alphabetic"}, "encoding": {"x": {"datum": 1.38}, "y": {"datum": 0.329}}},
    {"mark": {"type": "text", "text": "270", "fontSize": 22, "align": "right", "baseline": "alphabetic"}, "encoding": {"x": {"datum": -1.02}, "y": {"datum": 0.053}}},
    {"mark": {"type": "text", "text": "o", "fontSize": 17, "align": "left", "baseline": "alphabetic"}, "encoding": {"x": {"datum": -1.01}, "y": {"datum": 0.329}}},
    {"mark": {"type": "text", "text": "180", "fontSize": 22, "align": "left", "baseline": "alphabetic"}, "encoding": {"x": {"datum": 0.06}, "y": {"datum": -1.12}}},
    {"mark": {"type": "text", "text": "o", "fontSize": 17, "align": "left", "baseline": "alphabetic"}, "encoding": {"x": {"datum": 0.58}, "y": {"datum": -0.83}}},
    {"mark": {"type": "text", "text": "ppc=0.006", "fontSize": 23, "align": "left", "baseline": "alphabetic"}, "encoding": {"x": {"datum": 0.853}, "y": {"datum": 0.787}}},
    {"mark": {"type": "text", "text": "B2", "fontSize": 25, "fontWeight": "bold", "align": "left", "baseline": "alphabetic"}, "encoding": {"x": {"datum": -1.8}, "y": {"datum": 1.213}}}
   ]}
  ]},
 {"width": 1, "height": 263, "data": {"values": []}, "mark": "point"},
 {"width": 532, "height": 147,
  "resolve": {"scale": {"y": "independent"}, "axis": {"y": "independent"}},
  "layer": [
   {"layer": [
     {"data": {"name": "al"}, "mark": {"type": "line", "color": "black", "strokeWidth": 1.8, "strokeJoin": "round"},
      "encoding": {"x": {"field": "t", "type": "quantitative", "scale": {"domain": [-252, 1200], "nice": false, "zero": false}, "axis": {"values": [0, 500, 1000], "title": "time since sample start [ms]"}},
                   "y": {"field": "v", "type": "quantitative", "scale": {"domain": [-13.6, 594], "nice": false, "zero": false}, "axis": {"values": [0, 200], "title": "amplitude [μV]", "orient": "left"}}}},
     {"data": {"name": "as"}, "mark": {"type": "circle", "color": "#d0202f", "size": 55, "opacity": 1},
      "encoding": {"x": {"field": "t", "type": "quantitative"}, "y": {"field": "raw", "type": "quantitative"}}},
     {"data": {"values": [{}]}, "mark": {"type": "text", "text": "A3", "fontSize": 25, "fontWeight": "bold", "align": "left", "baseline": "alphabetic"},
      "encoding": {"x": {"datum": -445}, "y": {"datum": 681}}}
   ]},
   {"layer": [
     {"data": {"name": "af"}, "mark": {"type": "line", "color": "#d0202f", "strokeWidth": 2.5, "interpolate": "monotone"},
      "encoding": {"x": {"field": "t", "type": "quantitative"}, "y": {"field": "v", "type": "quantitative", "scale": {"domain": [-388, 219], "nice": false, "zero": false}, "axis": {"values": [0, 200], "title": null, "orient": "left", "domain": false}}}},
     {"data": {"name": "as"}, "mark": {"type": "rule", "color": "#d0202f", "strokeWidth": 2.5},
      "encoding": {"x": {"field": "t", "type": "quantitative"}, "y": {"field": "f", "type": "quantitative"}, "y2": {"field": "top"}}},
     {"data": {"name": "as"}, "mark": {"type": "circle", "color": "#d0202f", "size": 55, "opacity": 1},
      "encoding": {"x": {"field": "t", "type": "quantitative"}, "y": {"field": "f", "type": "quantitative"}}}
   ]},
   {"data": {"values": [{}]}, "mark": {"type": "rule", "color": "black", "strokeWidth": 2.2, "strokeDash": [5, 4]}, "encoding": {"x": {"datum": 0}}}
  ]},
 {"width": 119, "height": 147, "data": {"values": []}, "mark": "point"},
 {"width": 532, "height": 147,
  "resolve": {"scale": {"y": "independent"}, "axis": {"y": "independent"}},
  "layer": [
   {"layer": [
     {"data": {"name": "bl"}, "mark": {"type": "line", "color": "black", "strokeWidth": 1.8, "strokeJoin": "round"},
      "encoding": {"x": {"field": "t", "type": "quantitative", "scale": {"domain": [-252, 1200], "nice": false, "zero": false}, "axis": {"values": [0, 500, 1000], "title": "time since sample start [ms]"}},
                   "y": {"field": "v", "type": "quantitative", "scale": {"domain": [-17, 748], "nice": false, "zero": false}, "axis": {"values": [0, 200], "title": "amplitude [μV]", "orient": "left"}}}},
     {"data": {"name": "bs"}, "mark": {"type": "circle", "color": "#3c4ba6", "size": 55, "opacity": 1},
      "encoding": {"x": {"field": "t", "type": "quantitative"}, "y": {"field": "raw", "type": "quantitative"}}},
     {"data": {"values": [{}]}, "mark": {"type": "text", "text": "B3", "fontSize": 25, "fontWeight": "bold", "align": "left", "baseline": "alphabetic"},
      "encoding": {"x": {"datum": -413}, "y": {"datum": 858}}}
   ]},
   {"layer": [
     {"data": {"name": "bf"}, "mark": {"type": "line", "color": "#3c4ba6", "strokeWidth": 2.5, "interpolate": "monotone"},
      "encoding": {"x": {"field": "t", "type": "quantitative"}, "y": {"field": "v", "type": "quantitative", "scale": {"domain": [-430, 344], "nice": false, "zero": false}, "axis": {"values": [0, 200], "title": null, "orient": "left", "domain": false}}}},
     {"data": {"name": "bs"}, "mark": {"type": "rule", "color": "#3c4ba6", "strokeWidth": 2.5},
      "encoding": {"x": {"field": "t", "type": "quantitative"}, "y": {"field": "f", "type": "quantitative"}, "y2": {"field": "top"}}},
     {"data": {"name": "bs"}, "mark": {"type": "circle", "color": "#3c4ba6", "size": 55, "opacity": 1},
      "encoding": {"x": {"field": "t", "type": "quantitative"}, "y": {"field": "f", "type": "quantitative"}}}
   ]},
   {"data": {"values": [{}]}, "mark": {"type": "rule", "color": "black", "strokeWidth": 2.2, "strokeDash": [5, 4]}, "encoding": {"x": {"datum": 0}}}
  ]},
 {"width": 1, "height": 147, "data": {"values": []}, "mark": "point"},
 {"width": 532, "height": 356, "data": {"values": [{}]},
  "resolve": {"scale": {"x": "independent", "y": "independent"}},
  "layer": [
   {"layer": [
    {"data": {"name": "cw"}, "mark": {"type": "line", "color": "black", "strokeWidth": 1.3},
     "encoding": {"x": {"field": "t", "type": "quantitative", "scale": {"domain": [0.1217, 5.5172], "nice": false, "zero": false}, "axis": null},
                  "y": {"field": "v", "type": "quantitative", "scale": {"domain": [-163, 193], "nice": false, "zero": false}, "axis": null},
                  "detail": {"field": "k"}}},
    {"mark": {"type": "rule", "color": "black", "strokeWidth": 3.5}, "encoding": {"x": {"datum": 1.109}, "x2": {"datum": 1.606}, "y": {"datum": -48}}},
    {"mark": {"type": "text", "text": "0.5 ms", "fontSize": 24, "align": "center", "baseline": "middle"}, "encoding": {"x": {"datum": 1.352}, "y": {"datum": -67}}},
    {"mark": {"type": "text", "text": "C1", "fontSize": 25, "fontWeight": "bold", "align": "left", "baseline": "alphabetic"}, "encoding": {"x": {"datum": -0.609}, "y": {"datum": 66}}},
    {"mark": {"type": "text", "text": "PER", "fontSize": 25, "align": "left", "baseline": "alphabetic"}, "encoding": {"x": {"datum": -0.19}, "y": {"datum": 66}}}
   ]},
   {"layer": [
    {"mark": {"type": "rule", "color": "#444", "strokeDash": [6, 5], "strokeWidth": 1.5},
     "encoding": {"x": {"datum": 0, "scale": {"domain": [-4.84, 2.2533], "nice": false, "zero": false}, "axis": null},
                  "y": {"datum": -1, "scale": {"domain": [-1.8533, 2.8933], "nice": false, "zero": false}, "axis": null},
                  "y2": {"datum": 1}}},
    {"mark": {"type": "rule", "color": "#444", "strokeDash": [6, 5], "strokeWidth": 1.5}, "encoding": {"x": {"datum": -1}, "x2": {"datum": 1}, "y": {"datum": 0}}},
    {"data": {"name": "cr"}, "mark": {"type": "arc", "color": "#1e7d3c", "stroke": "black", "strokeWidth": 1},
     "encoding": {"x": {"datum": 0}, "y": {"datum": 0},
                  "theta": {"field": "a0", "type": "quantitative", "stack": null, "scale": {"domain": [0, 360], "range": [0, 6.283185]}},
                  "theta2": {"field": "a1"},
                  "radius": {"field": "n", "type": "quantitative", "scale": {"type": "linear", "domain": [0, 75], "range": [0, 75], "zero": true}}}},
    {"mark": {"type": "point", "filled": true, "color": "black", "size": 170, "opacity": 1}, "encoding": {"x": {"datum": 0}, "y": {"datum": 0}}},
    {"mark": {"type": "text", "text": "0", "fontSize": 22, "align": "left", "baseline": "alphabetic"}, "encoding": {"x": {"datum": 0.047}, "y": {"datum": 0.987}}},
    {"mark": {"type": "text", "text": "o", "fontSize": 17, "align": "left", "baseline": "alphabetic"}, "encoding": {"x": {"datum": 0.233}, "y": {"datum": 1.2}}},
    {"mark": {"type": "text", "text": "90", "fontSize": 22, "align": "left", "baseline": "alphabetic"}, "encoding": {"x": {"datum": 1.013}, "y": {"datum": 0.053}}},
    {"mark": {"type": "text", "text": "o", "fontSize": 17, "align": "left", "baseline": "alphabetic"}, "encoding": {"x": {"datum": 1.38}, "y": {"datum": 0.329}}},
    {"mark": {"type": "text", "text": "270", "fontSize": 22, "align": "right", "baseline": "alphabetic"}, "encoding": {"x": {"datum": -1.02}, "y": {"datum": 0.053}}},
    {"mark": {"type": "text", "text": "o", "fontSize": 17, "align": "left", "baseline": "alphabetic"}, "encoding": {"x": {"datum": -1.01}, "y": {"datum": 0.329}}},
    {"mark": {"type": "text", "text": "180", "fontSize": 22, "align": "left", "baseline": "alphabetic"}, "encoding": {"x": {"datum": 0.06}, "y": {"datum": -1.147}}},
    {"mark": {"type": "text", "text": "o", "fontSize": 17, "align": "left", "baseline": "alphabetic"}, "encoding": {"x": {"datum": 0.58}, "y": {"datum": -0.857}}},
    {"mark": {"type": "text", "text": "ppc=0.053", "fontSize": 23, "align": "left", "baseline": "alphabetic"}, "encoding": {"x": {"datum": 0.86}, "y": {"datum": 0.787}}},
    {"mark": {"type": "text", "text": "C2", "fontSize": 25, "fontWeight": "bold", "align": "left", "baseline": "alphabetic"}, "encoding": {"x": {"datum": -1.813}, "y": {"datum": 1.2}}}
   ]}
  ]},
 {"width": 119, "height": 356, "data": {"values": []}, "mark": "point"},
 {"width": 532, "height": 356, "data": {"values": [{}]},
  "resolve": {"scale": {"x": "independent", "y": "independent"}},
  "layer": [
   {"layer": [
    {"data": {"name": "dw"}, "mark": {"type": "line", "color": "black", "strokeWidth": 1.3},
     "encoding": {"x": {"field": "t", "type": "quantitative", "scale": {"domain": [0, 5.3955], "nice": false, "zero": false}, "axis": null},
                  "y": {"field": "v", "type": "quantitative", "scale": {"domain": [-163, 193], "nice": false, "zero": false}, "axis": null},
                  "detail": {"field": "k"}}},
    {"mark": {"type": "rule", "color": "black", "strokeWidth": 3.5}, "encoding": {"x": {"datum": 1.113}, "x2": {"datum": 1.609}, "y": {"datum": -48}}},
    {"mark": {"type": "text", "text": "0.5 ms", "fontSize": 24, "align": "center", "baseline": "middle"}, "encoding": {"x": {"datum": 1.356}, "y": {"datum": -67}}},
    {"mark": {"type": "text", "text": "D1", "fontSize": 25, "fontWeight": "bold", "align": "left", "baseline": "alphabetic"}, "encoding": {"x": {"datum": -0.598}, "y": {"datum": 66}}},
    {"mark": {"type": "text", "text": "dHC", "fontSize": 25, "align": "left", "baseline": "alphabetic"}, "encoding": {"x": {"datum": -0.17}, "y": {"datum": 66}}}
   ]},
   {"layer": [
    {"mark": {"type": "rule", "color": "#444", "strokeDash": [6, 5], "strokeWidth": 1.5},
     "encoding": {"x": {"datum": 0, "scale": {"domain": [-5, 2.0933], "nice": false, "zero": false}, "axis": null},
                  "y": {"datum": -1, "scale": {"domain": [-1.8533, 2.8933], "nice": false, "zero": false}, "axis": null},
                  "y2": {"datum": 1}}},
    {"mark": {"type": "rule", "color": "#444", "strokeDash": [6, 5], "strokeWidth": 1.5}, "encoding": {"x": {"datum": -1}, "x2": {"datum": 1}, "y": {"datum": 0}}},
    {"data": {"name": "dr"}, "mark": {"type": "arc", "color": "#dc8a2e", "stroke": "black", "strokeWidth": 1},
     "encoding": {"x": {"datum": 0}, "y": {"datum": 0},
                  "theta": {"field": "a0", "type": "quantitative", "stack": null, "scale": {"domain": [0, 360], "range": [0, 6.283185]}},
                  "theta2": {"field": "a1"},
                  "radius": {"field": "n", "type": "quantitative", "scale": {"type": "linear", "domain": [0, 75], "range": [0, 75], "zero": true}}}},
    {"mark": {"type": "point", "filled": true, "color": "black", "size": 170, "opacity": 1}, "encoding": {"x": {"datum": 0}, "y": {"datum": 0}}},
    {"mark": {"type": "text", "text": "0", "fontSize": 22, "align": "left", "baseline": "alphabetic"}, "encoding": {"x": {"datum": 0.06}, "y": {"datum": 0.987}}},
    {"mark": {"type": "text", "text": "o", "fontSize": 17, "align": "left", "baseline": "alphabetic"}, "encoding": {"x": {"datum": 0.25}, "y": {"datum": 1.2}}},
    {"mark": {"type": "text", "text": "90", "fontSize": 22, "align": "left", "baseline": "alphabetic"}, "encoding": {"x": {"datum": 1.013}, "y": {"datum": 0.053}}},
    {"mark": {"type": "text", "text": "o", "fontSize": 17, "align": "left", "baseline": "alphabetic"}, "encoding": {"x": {"datum": 1.38}, "y": {"datum": 0.329}}},
    {"mark": {"type": "text", "text": "270", "fontSize": 22, "align": "right", "baseline": "alphabetic"}, "encoding": {"x": {"datum": -1.02}, "y": {"datum": 0.053}}},
    {"mark": {"type": "text", "text": "o", "fontSize": 17, "align": "left", "baseline": "alphabetic"}, "encoding": {"x": {"datum": -1.01}, "y": {"datum": 0.329}}},
    {"mark": {"type": "text", "text": "180", "fontSize": 22, "align": "left", "baseline": "alphabetic"}, "encoding": {"x": {"datum": 0.06}, "y": {"datum": -1.12}}},
    {"mark": {"type": "text", "text": "o", "fontSize": 17, "align": "left", "baseline": "alphabetic"}, "encoding": {"x": {"datum": 0.58}, "y": {"datum": -0.83}}},
    {"mark": {"type": "text", "text": "ppc=0.142", "fontSize": 23, "align": "left", "baseline": "alphabetic"}, "encoding": {"x": {"datum": 0.853}, "y": {"datum": 0.787}}},
    {"mark": {"type": "text", "text": "D2", "fontSize": 25, "fontWeight": "bold", "align": "left", "baseline": "alphabetic"}, "encoding": {"x": {"datum": -1.8}, "y": {"datum": 1.2}}}
   ]}
  ]},
 {"width": 1, "height": 356, "data": {"values": []}, "mark": "point"},
 {"width": 532, "height": 147,
  "resolve": {"scale": {"y": "independent"}, "axis": {"y": "independent"}},
  "layer": [
   {"layer": [
     {"data": {"name": "cl"}, "mark": {"type": "line", "color": "black", "strokeWidth": 1.8, "strokeJoin": "round"},
      "encoding": {"x": {"field": "t", "type": "quantitative", "scale": {"domain": [-252, 1200], "nice": false, "zero": false}, "axis": {"values": [0, 500, 1000], "title": "time since sample start [ms]", "labelPadding": 9, "titlePadding": 6}},
                   "y": {"field": "v", "type": "quantitative", "scale": {"domain": [-6, 671], "nice": false, "zero": false}, "axis": {"values": [0, 200], "title": "amplitude [μV]", "orient": "left"}}}},
     {"data": {"name": "cs"}, "mark": {"type": "circle", "color": "#1e7d3c", "size": 55, "opacity": 1},
      "encoding": {"x": {"field": "t", "type": "quantitative"}, "y": {"field": "raw", "type": "quantitative"}}},
     {"data": {"values": [{}]}, "mark": {"type": "text", "text": "C3", "fontSize": 25, "fontWeight": "bold", "align": "left", "baseline": "alphabetic"},
      "encoding": {"x": {"datum": -445}, "y": {"datum": 768}}}
   ]},
   {"layer": [
     {"data": {"name": "cf"}, "mark": {"type": "line", "color": "#1e7d3c", "strokeWidth": 2.5, "interpolate": "monotone"},
      "encoding": {"x": {"field": "t", "type": "quantitative"}, "y": {"field": "v", "type": "quantitative", "scale": {"domain": [-387, 313], "nice": false, "zero": false}, "axis": {"values": [0, 200], "title": null, "orient": "left", "domain": false}}}},
     {"data": {"name": "cs"}, "mark": {"type": "rule", "color": "#1e7d3c", "strokeWidth": 2.5},
      "encoding": {"x": {"field": "t", "type": "quantitative"}, "y": {"field": "f", "type": "quantitative"}, "y2": {"field": "top"}}},
     {"data": {"name": "cs"}, "mark": {"type": "circle", "color": "#1e7d3c", "size": 55, "opacity": 1},
      "encoding": {"x": {"field": "t", "type": "quantitative"}, "y": {"field": "f", "type": "quantitative"}}}
   ]},
   {"data": {"values": [{}]}, "mark": {"type": "rule", "color": "black", "strokeWidth": 2.2, "strokeDash": [5, 4]}, "encoding": {"x": {"datum": 0}}}
  ]},
 {"width": 119, "height": 147, "data": {"values": []}, "mark": "point"},
 {"width": 532, "height": 147,
  "resolve": {"scale": {"y": "independent"}, "axis": {"y": "independent"}},
  "layer": [
   {"layer": [
     {"data": {"name": "dl"}, "mark": {"type": "line", "color": "black", "strokeWidth": 1.8, "strokeJoin": "round"},
      "encoding": {"x": {"field": "t", "type": "quantitative", "scale": {"domain": [-252, 1200], "nice": false, "zero": false}, "axis": {"values": [0, 500, 1000], "title": "time since sample start[ms]", "labelPadding": 9, "titlePadding": 6}},
                   "y": {"field": "v", "type": "quantitative", "scale": {"domain": [-25, 1548], "nice": false, "zero": false}, "axis": {"values": [0, 400], "title": "amplitude [μV]", "orient": "left"}}}},
     {"data": {"name": "ds"}, "mark": {"type": "circle", "color": "#dc8a2e", "size": 55, "opacity": 1, "stroke": "#8a5a20", "strokeWidth": 0.6},
      "encoding": {"x": {"field": "t", "type": "quantitative"}, "y": {"field": "raw", "type": "quantitative"}}},
     {"data": {"values": [{}]}, "mark": {"type": "text", "text": "D3", "fontSize": 25, "fontWeight": "bold", "align": "left", "baseline": "alphabetic"},
      "encoding": {"x": {"datum": -413}, "y": {"datum": 1772}}}
   ]},
   {"layer": [
     {"data": {"name": "df"}, "mark": {"type": "line", "color": "#dc8a2e", "strokeWidth": 2.5, "interpolate": "monotone"},
      "encoding": {"x": {"field": "t", "type": "quantitative"}, "y": {"field": "v", "type": "quantitative", "scale": {"domain": [-794, 867], "nice": false, "zero": false}, "axis": {"values": [0, 400], "title": null, "orient": "left", "domain": false}}}},
     {"data": {"name": "ds"}, "mark": {"type": "rule", "color": "#dc8a2e", "strokeWidth": 2.5},
      "encoding": {"x": {"field": "t", "type": "quantitative"}, "y": {"field": "f", "type": "quantitative"}, "y2": {"field": "top"}}},
     {"data": {"name": "ds"}, "mark": {"type": "circle", "color": "#dc8a2e", "size": 55, "opacity": 1, "stroke": "#8a5a20", "strokeWidth": 0.6},
      "encoding": {"x": {"field": "t", "type": "quantitative"}, "y": {"field": "f", "type": "quantitative"}}}
   ]},
   {"data": {"values": [{}]}, "mark": {"type": "rule", "color": "black", "strokeWidth": 2.2, "strokeDash": [5, 4]}, "encoding": {"x": {"datum": 0}}}
  ]},
 {"width": 1, "height": 147, "data": {"values": []}, "mark": "point"}
]
}
